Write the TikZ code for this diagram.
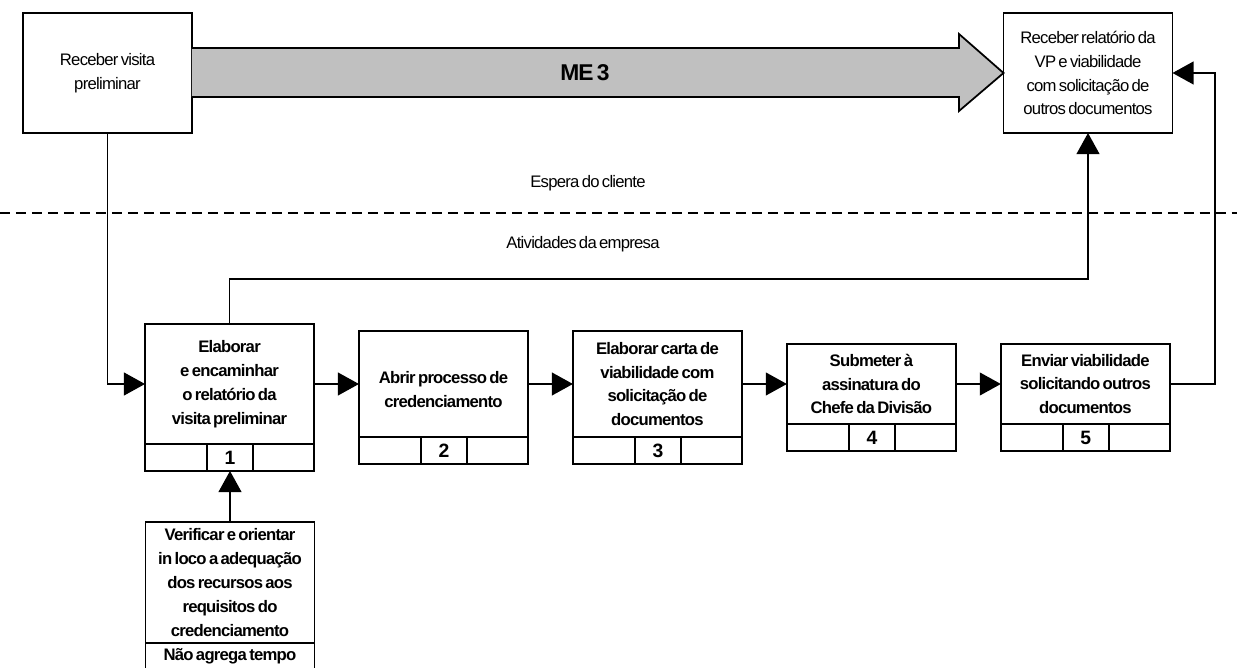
\documentclass[tikz,border=0pt]{standalone}
\usepackage{fontspec}
\setmainfont{Liberation Sans}[LetterSpace=-4.5, WordSpace=0.6]
\usetikzlibrary{arrows.meta, positioning}
\definecolor{arrowgray}{RGB}{192,192,192}
\tikzset{
>={Triangle[length=12pt, width=13pt]}, % filled black heads
every node/.style={outer sep=0pt, font=\fontsize{9.5}{13.6}\selectfont},
box/.style={draw, line width=1pt, minimum width=3.38cm, minimum height=2.4cm, align=center},
task/.style={box, inner sep=1pt, font=\bfseries\fontsize{9.5}{13.6}\selectfont},
cell/.style={draw, line width=1pt, minimum height=0.54cm, inner sep=0pt, font=\bfseries\fontsize{11}{13}\selectfont},
flow/.style={->, line width=0.9pt},
bigarrow/.style={fill=arrowgray, draw=black, line width=1pt},
sep/.style={line width=1.1pt, dash pattern=on 0.2cm off 0.12cm},
}
\begin{document}
\begin{tikzpicture}[x=0.02cm, y=-0.02cm]
\useasboundingbox (0,0) rectangle (1237,668);

% lado do cliente
\node[box] (vis) at (107.5,73) {Receber visita\\preliminar};
\node[box] (rel) at (1088,73) {Receber relatório da\\VP e viabilidade\\com solicitação de\\outros documentos};

% seta larga ME 3
\filldraw[bigarrow] (vis.east |- 0,48) -- (959,48) -- (959,34) -- (rel.west)
    -- (959,111) -- (959,97) -- (vis.east |- 0,97);
\node[font=\bfseries\fontsize{13}{15}\selectfont] (me) at (585,73) {ME 3};

% linha de espera
\draw[sep] (0,213) -- (1237,213);
\node (espera) at (588,183) {Espera do cliente};
\node (ativ) at (583,244) {Atividades da empresa};

% atividades da empresa
\node[task, minimum height=2.4cm] (p1) at (229.5,384) {Elaborar\\e encaminhar\\o relatório da\\visita preliminar};
\node[task, minimum height=2.12cm, right=0.9cm of p1] (p2) {\mbox{}\\Abrir processo de\\credenciamento};
\node[task, minimum height=2.12cm, right=0.9cm of p2] (p3) {Elaborar carta de\\viabilidade com\\solicitação de\\documentos};
\node[task, minimum height=1.6cm, right=0.9cm of p3] (p4) {Submeter à\\assinatura do\\Chefe da Divisão};
\node[task, minimum height=1.6cm, right=0.9cm of p4] (p5) {Enviar viabilidade\\solicitando outros\\documentos};

% faixas numeradas
\foreach \i in {1,...,5} {
    \node[cell, minimum width=1.24cm, anchor=north west] (s\i-a) at (p\i.south west) {};
    \node[cell, minimum width=0.92cm, right=0pt of s\i-a] (s\i-b) {\i};
    \node[cell, minimum width=1.22cm, right=0pt of s\i-b] (s\i-c) {};
}

\node[task, minimum height=2.42cm, below=1.02cm of s1-b] (ver) {Verificar e orientar\\in loco a adequação\\dos recursos aos\\requisitos do\\credenciamento};
\node[cell, minimum width=3.38cm, anchor=north, font=\bfseries\fontsize{9.5}{13.6}\selectfont] (ver-t) at (ver.south) {Não agrega tempo};

% conexoes
\coordinate (up) at (rel.south |- 0,279);
\draw[flow] (vis) |- (p1);
\foreach \a/\b in {p1/p2, p2/p3, p3/p4, p4/p5}
    \draw[flow] (\a) -- (\b);
\draw[flow] (p1) |- (up) -- (rel);
\draw[flow] (p5.east) -- ++(45,0) |- (rel);
\draw[flow] (ver) -- (s1-b);
\end{tikzpicture}
\end{document}
